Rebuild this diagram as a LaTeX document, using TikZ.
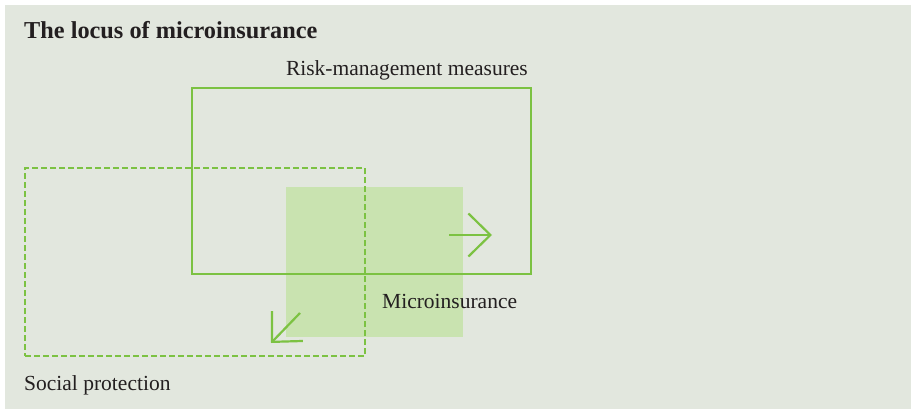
\documentclass[tikz,border=0pt]{standalone}
\usepackage{fontspec}
\setmainfont{Liberation Serif}
\usetikzlibrary{arrows.meta}

\definecolor{panelgray}{HTML}{E2E7DE}
\definecolor{leafgreen}{HTML}{7CC242}
\definecolor{palegreen}{HTML}{C9E3B0}
\definecolor{inkgray}{HTML}{231F20}

\tikzset{
    areabox/.style={draw=leafgreen, line width=2.2pt, inner sep=0pt, anchor=north west},
    label/.style={text=inkgray, inner sep=0pt, anchor=base west, font=\fontsize{21.5}{26}\selectfont},
}

\begin{document}
\begin{tikzpicture}[x=1pt, y=-1pt, >={Straight Barb[length=22pt, width=43pt]}]
    \useasboundingbox (0,0) rectangle (911,409);
    \fill[panelgray] (5,5) rectangle (911,409);

    % overlap of the two areas
    \node[fill=palegreen, inner sep=0pt, anchor=north west,
          minimum width=177pt, minimum height=150pt] (micro) at (286,187) {};

    \node[areabox, minimum width=339pt, minimum height=186pt] (risk) at (191,87) {};
    \node[areabox, dash pattern=on 6pt off 3pt,
          minimum width=340pt, minimum height=188pt] (social) at (24,167) {};

    \coordinate (rtail) at (449,235);
    \coordinate (rtip)  at (492,235);
    \coordinate (dtail) at (300,313);
    \coordinate (dtip)  at (271,343);
    \foreach \from/\to in {rtail/rtip, dtail/dtip} {
        \draw[->, leafgreen, line width=2.2pt] (\from) -- (\to);
    }

    \node[label, font=\fontsize{24.3}{29}\selectfont\bfseries] (title) at (24,39) {The locus of microinsurance};
    \node[label, anchor=base east] (risklabel) at (528,76) {Risk-management measures};
    \node[label] (microlabel) at (382,308) {Microinsurance};
    \node[label] (sociallabel) at (24,390) {Social protection};
\end{tikzpicture}
\end{document}
